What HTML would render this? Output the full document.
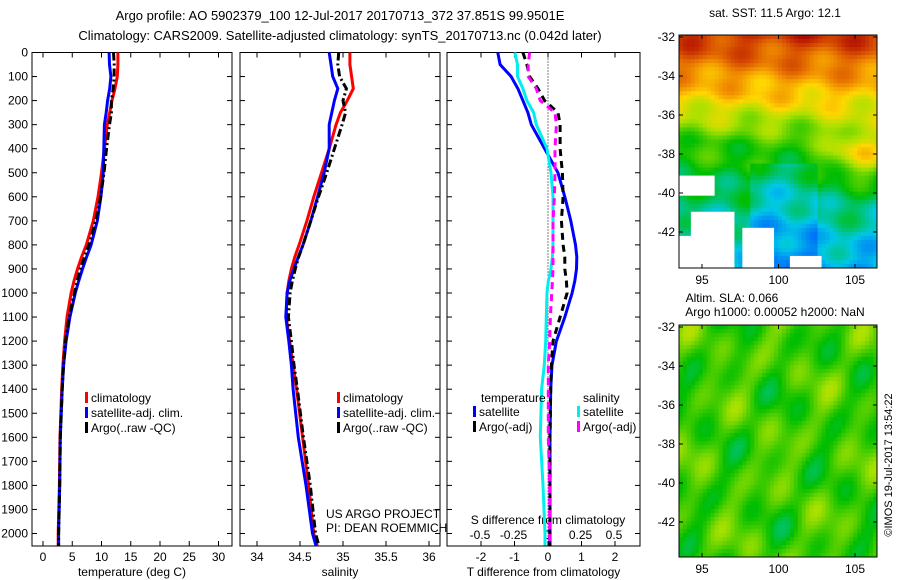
<!DOCTYPE html>
<html><head><meta charset="utf-8">
<style>
body{margin:0;background:#fff;}
svg{display:block;font-family:"Liberation Sans",sans-serif;}
text{fill:#000;}
</style></head>
<body>
<svg id="fig" width="900" height="580" viewBox="0 0 900 580" xmlns="http://www.w3.org/2000/svg">
<text x="340" y="20" font-size="13" text-anchor="middle">Argo profile: AO 5902379_100 12-Jul-2017 20170713_372 37.851S 99.9501E</text>
<text x="340" y="40" font-size="13" text-anchor="middle">Climatology: CARS2009. Satellite-adjusted climatology: synTS_20170713.nc (0.042d later)</text>
<g id="p1"></g>
<g id="p2"></g>
<g id="p3"></g>
<g id="m1"></g>
<g id="m2"></g>
<text x="775" y="17" font-size="12" text-anchor="middle">sat. SST: 11.5 Argo: 12.1</text>
<text x="732" y="302" font-size="12" text-anchor="middle">Altim. SLA: 0.066</text>
<text x="775" y="316" font-size="12" text-anchor="middle">Argo h1000: 0.00052 h2000: NaN</text>
<text x="0" y="0" font-size="11" text-anchor="middle" transform="translate(892,465) rotate(-90)">©IMOS 19-Jul-2017 13:54:22</text>
</svg>
<script>
// ---------- data ----------
const depths = [0,50,100,150,200,250,300,400,500,600,700,800,850,900,950,1000,1100,1200,1300,1400,1600,1800,2000,2050];
const tClim  = [12.8,12.8,12.7,12.3,11.8,11.4,11.0,10.5,10.0,9.4,8.6,7.4,6.6,5.9,5.3,4.8,4.1,3.7,3.4,3.2,2.9,2.8,2.6,2.6];
const sClim  = [35.08,35.08,35.1,35.12,35.05,34.97,34.92,34.84,34.75,34.66,34.58,34.49,34.44,34.4,34.37,34.35,34.34,34.38,34.42,34.46,34.53,34.6,34.66,34.7];
const dTsat  = [-1.5,-1.43,-1.1,-0.9,-0.75,-0.6,-0.5,-0.1,0.3,0.5,0.68,0.82,0.86,0.85,0.8,0.72,0.5,0.25,0.12,0.08,0.06,0.06,0.06,0.06];
const dTargo = [-0.75,-0.63,-0.55,-0.3,-0.1,0.3,0.36,0.36,0.43,0.45,0.4,0.45,0.5,0.5,0.55,0.57,0.36,0.15,0.1,0.08,0.06,0.06,0.06,0.06];
const dSsat  = [-0.24,-0.22,-0.22,-0.18,-0.15,-0.1,-0.08,0,0.03,0.045,0.045,0.045,0.04,0.03,0.01,0,-0.005,-0.01,-0.02,-0.04,-0.05,-0.03,-0.015,-0.015];
const dSargo = [-0.13,-0.14,-0.14,-0.08,-0.05,0.06,0.07,0.06,0.06,0.055,0.045,0.045,0.045,0.045,0.04,0.035,0.025,0.02,0.01,0.01,0.01,0.02,0.02,0.02];
const depthTicks = [0,100,200,300,400,500,600,700,800,900,1000,1100,1200,1300,1400,1500,1600,1700,1800,1900,2000];
const tTicks = [0,5,10,15,20,25,30];
const sTicks = [34,34.5,35,35.5,36];
const dTTicks = [-2,-1,0,1,2];
const dSTicks = [-0.5,-0.25,0,0.25,0.5];
const dSTickLabels = ["-0.5","-0.25","0","0.25","0.5"];
const latTicks = [-32,-34,-36,-38,-40,-42];
const lonTicks = [95,100,105];

const NS="http://www.w3.org/2000/svg";
function el(tag, attrs, parent){const e=document.createElementNS(NS,tag);for(const k in attrs)e.setAttribute(k,attrs[k]);parent.appendChild(e);return e;}
const TOP=52.5, BOT=546, Y=d=>TOP+d*0.2405;

function panel(g, x0, x1, xf, ticks, labels, xlabel){
  el('rect',{x:x0,y:TOP,width:x1-x0,height:BOT-TOP,fill:'none',stroke:'#000','stroke-width':1},g);
  ticks.forEach((t,i)=>{const x=xf(t);
    el('line',{x1:x,x2:x,y1:BOT,y2:BOT-5,stroke:'#000'},g);
    el('line',{x1:x,x2:x,y1:TOP,y2:TOP+5,stroke:'#000'},g);
    const tx=el('text',{x:x,y:BOT+15,'font-size':12,'text-anchor':'middle'},g);tx.textContent=labels[i];
    
    
  });
  depthTicks.forEach(d=>{const y=Y(d);
    el('line',{x1:x0,x2:x0+5,y1:y,y2:y,stroke:'#000'},g);
    el('line',{x1:x1,x2:x1-5,y1:y,y2:y,stroke:'#000'},g);
  });
  const xl=el('text',{x:(x0+x1)/2,y:576,'font-size':12,'text-anchor':'middle'},g);xl.textContent=xlabel;
  
  
}
function line(g, xs, xf, color, dash, w, name){
  const pts=depths.map((d,i)=>xf(xs[i]).toFixed(1)+','+Y(d).toFixed(1)).join(' ');
  const p=el('polyline',{points:pts,fill:'none',stroke:color,'stroke-width':w,'stroke-dasharray':dash||'none'},g);
  
  
}
function legend(g, x, y, items){
  items.forEach((it,i)=>{
    el('rect',{x:x,y:y+i*15-10,width:3,height:11,fill:it[0]},g);
    const t=el('text',{x:x+6,y:y+i*15,'font-size':12},g);t.textContent=it[1];
    
    
  });
}

// panel 1: temperature
const p1=document.getElementById('p1');
const xT=v=>43+v*5.85;
panel(p1,32,232,xT,tTicks,tTicks.map(String),'temperature (deg C)');
depthTicks.forEach(d=>{const t=el('text',{x:28,y:Y(d)+4,'font-size':12,'text-anchor':'end'},p1);t.textContent=d;
  
  });
line(p1,tClim,xT,'#ff0000','',3,'temp-climatology-line');
line(p1,tClim.map((v,i)=>v+dTsat[i]),xT,'#0000ff','',3,'temp-satellite-line');
line(p1,tClim.map((v,i)=>v+dTargo[i]),xT,'#000','8,3,2,3',3,'temp-argo-line');
legend(p1,85,402,[['#f00','climatology'],['#00f','satellite-adj. clim.'],['#000','Argo(..raw -QC)']]);

// panel 2: salinity
const p2=document.getElementById('p2');
const xS=v=>257+(v-34)*86;
panel(p2,240,440,xS,sTicks,sTicks.map(String),'salinity');
line(p2,sClim,xS,'#ff0000','',3,'sal-climatology-line');
line(p2,sClim.map((v,i)=>v+dSsat[i]),xS,'#0000ff','',3,'sal-satellite-line');
line(p2,sClim.map((v,i)=>v+dSargo[i]),xS,'#000','8,3,2,3',3,'sal-argo-line');
legend(p2,337,402,[['#f00','climatology'],['#00f','satellite-adj. clim.'],['#000','Argo(..raw -QC)']]);
const u1=el('text',{x:326,y:518,'font-size':12},p2);u1.textContent='US ARGO PROJECT';
const u2=el('text',{x:326,y:532,'font-size':12},p2);u2.textContent='PI: DEAN ROEMMICH';

// panel 3: differences
const p3=document.getElementById('p3');
const xdT=v=>548+v*33.5, xdS=v=>547+v*134;
panel(p3,447,640,xdT,dTTicks,dTTicks.map(String),'T difference from climatology');
el('line',{x1:548,x2:548,y1:TOP,y2:BOT,stroke:'#000','stroke-dasharray':'1,2'},p3);
dSTicks.forEach((t,i)=>{const tx=el('text',{x:xdS(t),y:539,'font-size':12,'text-anchor':'middle'},p3);tx.textContent=dSTickLabels[i];
  
  });
const st=el('text',{x:548,y:524,'font-size':12,'text-anchor':'middle'},p3);st.textContent='S difference from climatology';
line(p3,dTsat,xdT,'#0000ff','',3,'tdiff-satellite-line');
line(p3,dSsat,xdS,'#00eeee','',3,'sdiff-satellite-line');
line(p3,dTargo,xdT,'#000','7,5',3,'tdiff-argo-line');
line(p3,dSargo,xdS,'#ff00ff','7,5',3,'sdiff-argo-line');
const th=el('text',{x:481,y:402,'font-size':12},p3);th.textContent='temperature';
const sh=el('text',{x:583,y:402,'font-size':12},p3);sh.textContent='salinity';
legend(p3,473,416,[['#00f','satellite'],['#000','Argo(-adj)']]);
legend(p3,577,416,[['#0ee','satellite'],['#f0f','Argo(-adj)']]);

// maps
const CMAP=[[0,[0,0,140]],[0.15,[0,80,255]],[0.3,[0,200,230]],[0.45,[0,190,0]],[0.6,[170,225,0]],[0.7,[255,215,0]],[0.8,[240,140,0]],[0.9,[210,70,0]],[1,[170,0,0]]];
function cmap(v){v=Math.max(0,Math.min(1,v));
  for(let k=1;k<CMAP.length;k++){if(v<=CMAP[k][0]){const a=CMAP[k-1],b=CMAP[k],f=(v-a[0])/(b[0]-a[0]);
    return 'rgb('+a[1].map((c,i)=>Math.round(c+(b[1][i]-c)*f)).join(',')+')';}}
  return 'rgb(170,0,0)';}
const MX0=679,MX1=877,lonX=l=>702+(l-95)*15.3;
function mapAxes(g,y0,y1){
  const latY=la=>y0+2+(-32-la)*19.5;
  el('rect',{x:MX0,y:y0,width:MX1-MX0,height:y1-y0,fill:'none',stroke:'#000'},g);
  latTicks.forEach(la=>{const y=latY(la);
    el('line',{x1:MX0,x2:MX0+4,y1:y,y2:y,stroke:'#000'},g);
    el('line',{x1:MX1,x2:MX1-4,y1:y,y2:y,stroke:'#000'},g);
    const t=el('text',{x:675,y:y+4,'font-size':12,'text-anchor':'end'},g);t.textContent=la;
    
    });
  lonTicks.forEach(lo=>{const x=lonX(lo);
    el('line',{x1:x,x2:x,y1:y1,y2:y1-4,stroke:'#000'},g);
    el('line',{x1:x,x2:x,y1:y0,y2:y0+4,stroke:'#000'},g);
    const t=el('text',{x:x,y:y1+16,'font-size':12,'text-anchor':'middle'},g);t.textContent=lo;
    
    });
}
function drawMap(g,y0,y1,fn){
  const nx=50,ny=58,cw=(MX1-MX0)/nx,ch=(y1-y0)/ny;
  for(let j=0;j<ny;j++)for(let i=0;i<nx;i++){
    const c=fn(i/nx,j/ny);
    el('rect',{x:(MX0+i*cw).toFixed(2),y:(y0+j*ch).toFixed(2),width:(cw+0.4).toFixed(2),height:(ch+0.4).toFixed(2),fill:c},g);
  }
}
const m1=document.getElementById('m1');
drawMap(m1,35,268,(u,v)=>{
  if((v>0.6&&v<0.68&&u<0.18)||(v>0.75&&u<0.28&&!(v<0.85&&u<0.05))||(v>0.82&&u>0.3&&u<0.48)||(v>0.94&&u>0.55&&u<0.72)) return '#fff';
  let val;
  if(v<0.25) val=0.92-v*0.8;
  else if(v<0.45) val=0.72-(v-0.25)*1.1;
  else val=0.5-(v-0.45)*0.45;
  val+=0.04*Math.sin(u*23+v*9)+0.03*Math.sin(v*41-u*7);
  const dx=(u-0.9)/0.15, dy=(v-0.5)/0.1;
  val+=0.22*Math.exp(-(dx*dx+dy*dy));
  if(v>0.55&&u>0.35&&u<0.7) val-=0.06;
  return cmap(val);
});
mapAxes(m1,35,268);
const m2=document.getElementById('m2');
drawMap(m2,325,557,(u,v)=>{
  const val=0.5+0.05*Math.sin(u*14+1)*Math.cos(v*11)+0.04*Math.sin(u*29+v*17)+0.03*Math.cos(v*23-u*8);
  return cmap(val);
});
mapAxes(m2,325,557);
</script>
</body></html>
